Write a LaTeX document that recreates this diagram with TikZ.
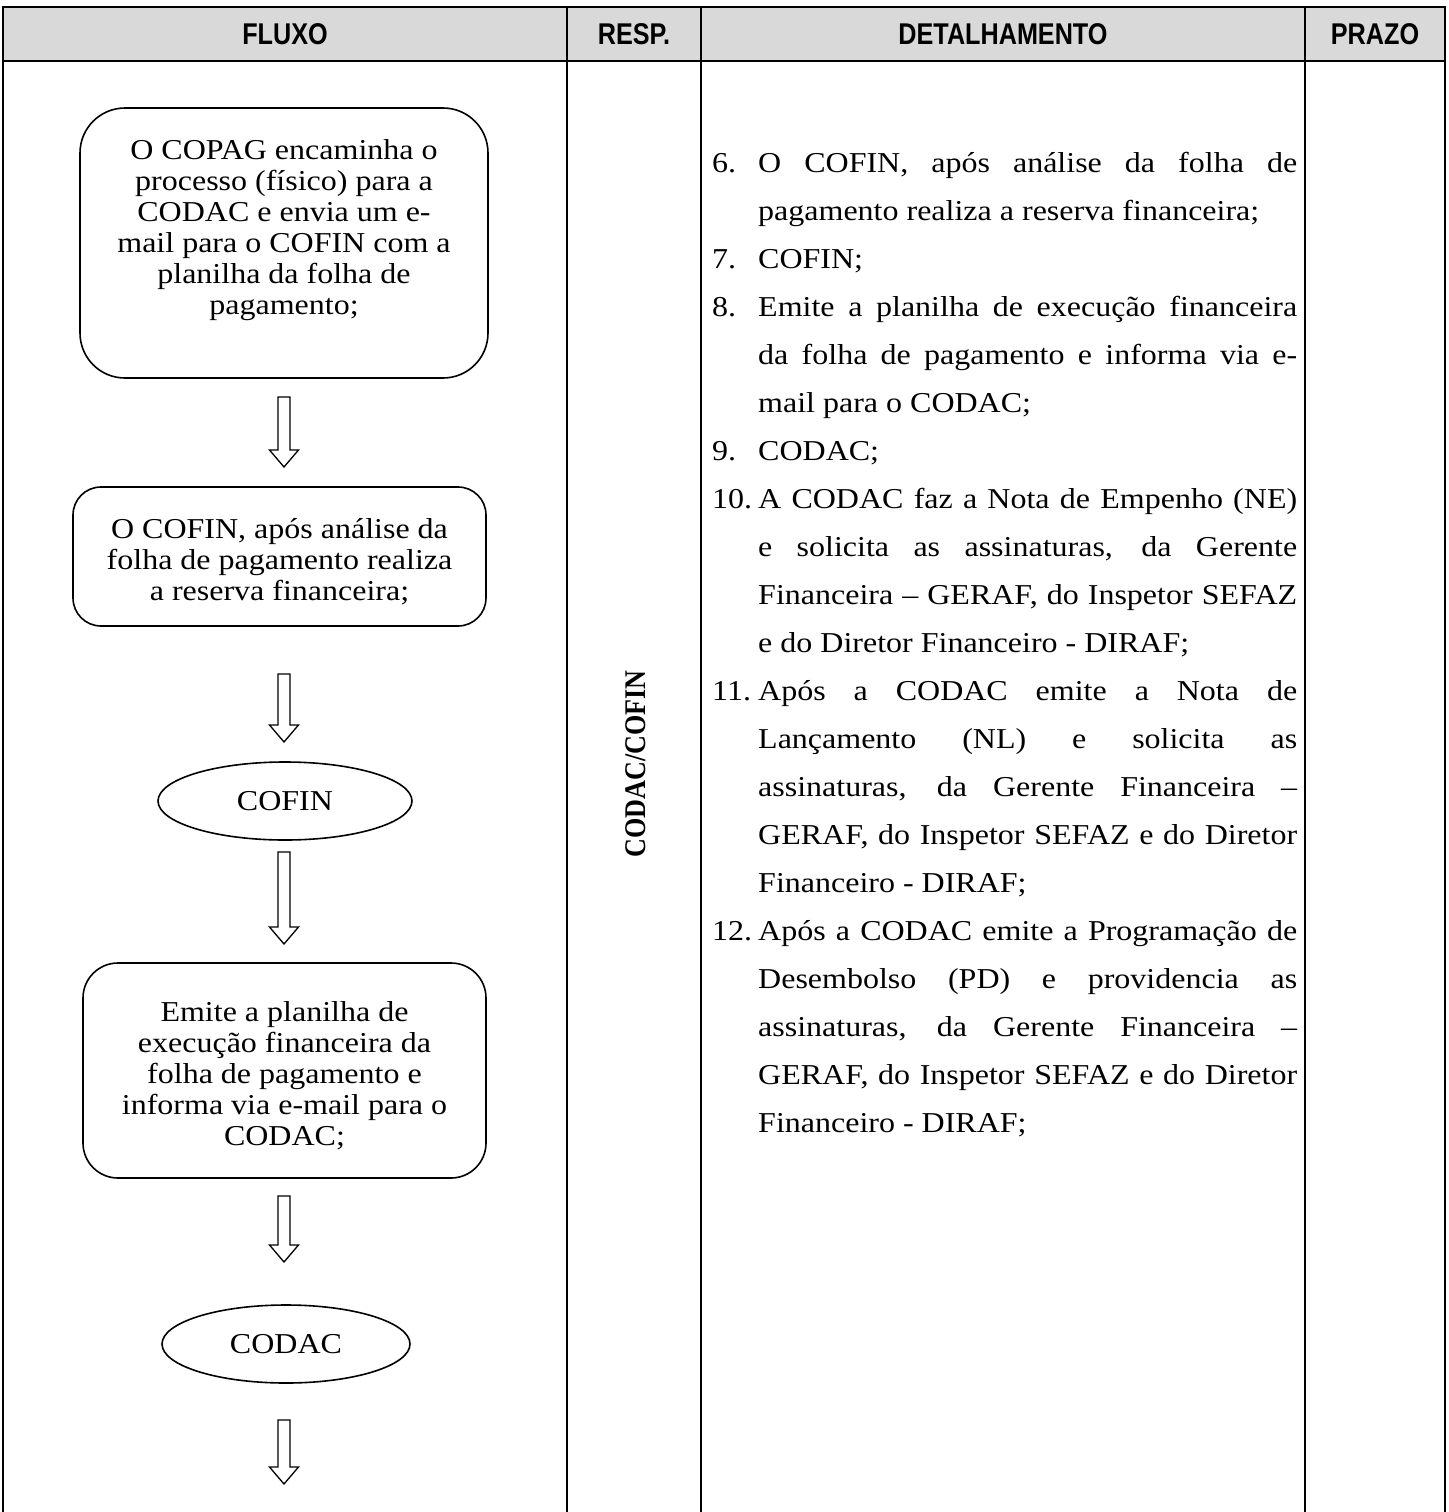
\documentclass[tikz,border=0pt]{standalone}
\usepackage{fontspec}
\setmainfont{Liberation Serif}
\newfontfamily\hdrfont{Liberation Sans}
\usetikzlibrary{shapes.geometric,calc}
\definecolor{hdrgray}{HTML}{D9D9D9}
\tikzset{
 gridline/.style={line width=2pt, black},
 hdr/.style={font=\hdrfont\bfseries\fontsize{30}{32}\selectfont, inner sep=0pt},
 flowbox/.style={draw, line width=1.6pt, inner sep=0pt},
 boxtext/.style={inner sep=0pt, font=\fontsize{32}{34.4}\selectfont},
 term/.style={draw, ellipse, line width=1.6pt, font=\fontsize{32}{36}\selectfont, inner sep=0pt},
 dl/.style={anchor=base west, inner sep=0pt, font=\fontsize{32}{36}\selectfont},
 harrowline/.style={draw, line width=1.3pt, fill=white, line join=miter},
}
\newcommand\harrow[2]{\path[harrowline] let \p1=(#1), \p2=(#2) in
 (\x1-6pt,\y1) -- (\x1-6pt,\y2+17pt) -- (\x1-14.5pt,\y2+17pt) -- (\x1,\y2) --
 (\x1+14.5pt,\y2+17pt) -- (\x1+6pt,\y2+17pt) -- (\x1+6pt,\y1) -- cycle;}
\newcommand\sqz[1]{\scalebox{1}[0.9]{#1}}
\newcommand\jl[1]{\sqz{\makebox[539pt][s]{#1}}}
\newcommand\btx[1]{\sqz{\begin{tabular}{@{}c@{}}#1\end{tabular}}}
\begin{document}
\begin{tikzpicture}[x=1pt,y=-1pt]
\useasboundingbox (0,0) rectangle (1448,1512);
% table
\fill[hdrgray] (3,7) rectangle (1445,61);
\draw[gridline] (3,1512) -- (3,7) -- (1445,7) -- (1445,1512);
\draw[gridline] (3,61) -- (1445,61);
\foreach \x in {567,701,1305} \draw[gridline] (\x,7) -- (\x,1512);
% header
\node[hdr] (hfluxo) at (285,34) {\scalebox{0.84}[1]{FLUXO}};
\node[hdr] (hresp) at (634,34) {\scalebox{0.84}[1]{RESP.}};
\node[hdr] (hdet) at (1003,34) {\scalebox{0.84}[1]{DETALHAMENTO}};
\node[hdr] (hprazo) at (1375,34) {\scalebox{0.84}[1]{PRAZO}};
% flow
\node[flowbox, rounded corners=45pt, minimum width=408pt, minimum height=270pt] (b1) at (284,243) {};
\node[boxtext] (t1) at (284,231)
 {\btx{O COPAG encaminha o\\processo (físico) para a\\CODAC e envia um e-\\mail para o COFIN com a\\planilha da folha de\\pagamento;}};
\node[flowbox, rounded corners=28pt, minimum width=413pt, minimum height=139pt] (b2) at (279.5,556.5) {};
\node[boxtext] (t2) at (279.5,563.5)
 {\btx{O COFIN, após análise da\\folha de pagamento realiza\\a reserva financeira;}};
\node[term, minimum width=254pt, minimum height=78pt] (e1) at (285,801) {\sqz{COFIN}};
\node[flowbox, rounded corners=35pt, minimum width=403pt, minimum height=215pt] (b4) at (284.5,1070.5) {};
\node[boxtext] (t4) at (284.5,1077)
 {\btx{Emite a planilha de\\execução financeira da\\folha de pagamento e\\informa via e-mail para o\\CODAC;}};
\node[term, minimum width=248pt, minimum height=78pt] (e2) at (286,1344) {\sqz{CODAC}};
% arrows
\coordinate (a1s) at (284,397); \coordinate (a1e) at (284,467);
\coordinate (a2s) at (284,674); \coordinate (a2e) at (284,742);
\coordinate (a3s) at (284,852); \coordinate (a3e) at (284,944);
\coordinate (a4s) at (284,1196); \coordinate (a4e) at (284,1262);
\coordinate (a5s) at (284,1420); \coordinate (a5e) at (284,1484);
\harrow{a1s}{a1e}
\harrow{a2s}{a2e}
\harrow{a3s}{a3e}
\harrow{a4s}{a4e}
\harrow{a5s}{a5e}
% resp
\node[rotate=90, inner sep=0pt, font=\bfseries\fontsize{30}{34}\selectfont] (resp) at (636,764) {\scalebox{0.87}[1]{CODAC/COFIN}};
% detail
\node[dl] (n6) at (712,172) {\sqz{6.}};
\node[dl] (d0) at (758,172) {\jl{O COFIN, após análise da folha de}};
\node[dl] (d1) at (758,220) {\sqz{pagamento realiza a reserva financeira;}};
\node[dl] (n7) at (712,268) {\sqz{7.}};
\node[dl] (d2) at (758,268) {\sqz{COFIN;}};
\node[dl] (n8) at (712,316) {\sqz{8.}};
\node[dl] (d3) at (758,316) {\jl{Emite a planilha de execução financeira}};
\node[dl] (d4) at (758,364) {\jl{da folha de pagamento e informa via e-}};
\node[dl] (d5) at (758,412) {\sqz{mail para o CODAC;}};
\node[dl] (n9) at (712,460) {\sqz{9.}};
\node[dl] (d6) at (758,460) {\sqz{CODAC;}};
\node[dl] (n10) at (712,508) {\sqz{10.}};
\node[dl] (d7) at (758,508) {\jl{A CODAC faz a Nota de Empenho (NE)}};
\node[dl] (d8) at (758,556) {\jl{e solicita as assinaturas, da Gerente}};
\node[dl] (d9) at (758,604) {\jl{Financeira – GERAF, do Inspetor SEFAZ}};
\node[dl] (d10) at (758,652) {\sqz{e do Diretor Financeiro - DIRAF;}};
\node[dl] (n11) at (712,700) {\sqz{11.}};
\node[dl] (d11) at (758,700) {\jl{Após a CODAC emite a Nota de}};
\node[dl] (d12) at (758,748) {\jl{Lançamento (NL) e solicita as}};
\node[dl] (d13) at (758,796) {\jl{assinaturas, da Gerente Financeira –}};
\node[dl] (d14) at (758,844) {\jl{GERAF, do Inspetor SEFAZ e do Diretor}};
\node[dl] (d15) at (758,892) {\sqz{Financeiro - DIRAF;}};
\node[dl] (n12) at (712,940) {\sqz{12.}};
\node[dl] (d16) at (758,940) {\jl{Após a CODAC emite a Programação de}};
\node[dl] (d17) at (758,988) {\jl{Desembolso (PD) e providencia as}};
\node[dl] (d18) at (758,1036) {\jl{assinaturas, da Gerente Financeira –}};
\node[dl] (d19) at (758,1084) {\jl{GERAF, do Inspetor SEFAZ e do Diretor}};
\node[dl] (d20) at (758,1132) {\sqz{Financeiro - DIRAF;}};
\end{tikzpicture}
\end{document}
